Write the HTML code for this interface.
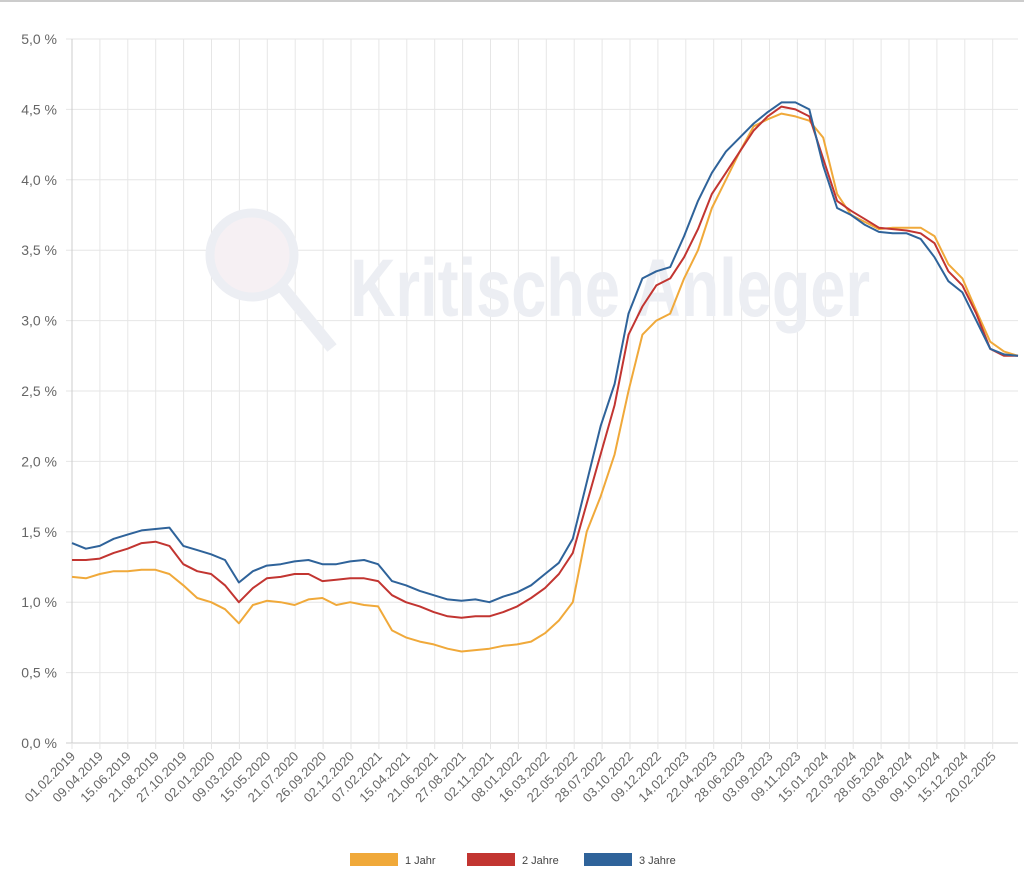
<!DOCTYPE html>
<html><head><meta charset="utf-8"><style>
body{margin:0;background:#fff;font-family:"Liberation Sans",sans-serif;}
</style></head><body>
<svg width="1024" height="887" xmlns="http://www.w3.org/2000/svg">
<rect x="0" y="0" width="1024" height="2" fill="#ccc"/>
<g id="grid"></g>
<text x="350" y="316" font-size="82" font-weight="bold" fill="#eceef3" textLength="520" lengthAdjust="spacingAndGlyphs">Kritische Anleger</text>
<circle cx="252" cy="255" r="42" fill="#f6f0f3" stroke="#eceef3" stroke-width="9"/>
<line x1="283" y1="288" x2="332" y2="348" stroke="#eceef3" stroke-width="12"/>
<g id="series"></g>
<g id="xlabels"></g>
<g id="legend"></g>
</svg>
<script>
const yTicks=[0,0.5,1,1.5,2,2.5,3,3.5,4,4.5,5];
const xLabels=["01.02.2019","09.04.2019","15.06.2019","21.08.2019","27.10.2019","02.01.2020","09.03.2020","15.05.2020","21.07.2020","26.09.2020","02.12.2020","07.02.2021","15.04.2021","21.06.2021","27.08.2021","02.11.2021","08.01.2022","16.03.2022","22.05.2022","28.07.2022","03.10.2022","09.12.2022","14.02.2023","22.04.2023","28.06.2023","03.09.2023","09.11.2023","15.01.2024","22.03.2024","28.05.2024","03.08.2024","09.10.2024","15.12.2024","20.02.2025"];
const seriesNames=["1 Jahr","2 Jahre","3 Jahre"];
const jahr1=[1.18,1.17,1.20,1.22,1.22,1.23,1.23,1.20,1.12,1.03,1.00,0.95,0.85,0.98,1.01,1.00,0.98,1.02,1.03,0.98,1.00,0.98,0.97,0.80,0.75,0.72,0.70,0.67,0.65,0.66,0.67,0.69,0.70,0.72,0.78,0.87,1.00,1.50,1.75,2.05,2.50,2.90,3.00,3.05,3.30,3.50,3.80,4.00,4.20,4.38,4.43,4.47,4.45,4.42,4.30,3.90,3.75,3.70,3.65,3.66,3.66,3.66,3.60,3.40,3.30,3.07,2.85,2.78,2.75];
const jahre2=[1.30,1.30,1.31,1.35,1.38,1.42,1.43,1.40,1.27,1.22,1.20,1.12,1.00,1.10,1.17,1.18,1.20,1.20,1.15,1.16,1.17,1.17,1.15,1.05,1.00,0.97,0.93,0.90,0.89,0.90,0.90,0.93,0.97,1.03,1.10,1.20,1.35,1.70,2.05,2.40,2.90,3.10,3.25,3.30,3.45,3.65,3.90,4.05,4.20,4.35,4.45,4.52,4.50,4.45,4.15,3.85,3.78,3.72,3.66,3.65,3.64,3.62,3.55,3.35,3.25,3.05,2.80,2.75,2.75];
const jahre3=[1.42,1.38,1.40,1.45,1.48,1.51,1.52,1.53,1.40,1.37,1.34,1.30,1.14,1.22,1.26,1.27,1.29,1.30,1.27,1.27,1.29,1.30,1.27,1.15,1.12,1.08,1.05,1.02,1.01,1.02,1.00,1.04,1.07,1.12,1.20,1.28,1.45,1.85,2.25,2.55,3.05,3.30,3.35,3.38,3.60,3.85,4.05,4.20,4.30,4.40,4.48,4.55,4.55,4.50,4.10,3.80,3.75,3.68,3.63,3.62,3.62,3.58,3.45,3.28,3.20,3.00,2.80,2.76,2.75];
const colors=["#f0a93a","#c23531","#2f639a"];
const NS="http://www.w3.org/2000/svg";
const X0=72,X1=1018,Y0=743,Y5=39;
const tickStep=27.9;
function yS(v){return Y0-(v/5)*(Y0-Y5);}
function xS(i,n){return X0+i*(X1-X0)/(n-1);}
function mk(t,a,p){const e=document.createElementNS(NS,t);for(const k in a)e.setAttribute(k,a[k]);p.appendChild(e);return e;}
const grid=document.getElementById('grid');
yTicks.forEach(v=>{
 const l=mk('line',{x1:X0-6,x2:X1,y1:yS(v),y2:yS(v),stroke:v===0?'#ccc':'#e6e6e6','stroke-width':1},grid);
 
 
 const t=mk('text',{x:57,y:yS(v)+5,'text-anchor':'end','font-size':14,fill:'#666'},grid);
 t.textContent=v.toFixed(1).replace('.',',')+' %';
 
 
});
const xl=document.getElementById('xlabels');
xLabels.forEach((s,i)=>{
 const x=X0+i*tickStep;
 const l=mk('line',{x1:x,x2:x,y1:Y5,y2:Y0+6,stroke:'#e6e6e6','stroke-width':1},grid);
 
 
 const t=mk('text',{x:x+4,y:Y0+14,'text-anchor':'end','font-size':13,fill:'#666',transform:`rotate(-45 ${x+4} ${Y0+14})`},xl);
 t.textContent=s;
 
 
});
const ax=mk('line',{x1:X0,x2:X0,y1:Y5,y2:Y0,stroke:'#ccc'},grid);


const sg=document.getElementById('series');
[jahr1,jahre2,jahre3].forEach((d,k)=>{
 const pts=d.map((v,i)=>xS(i,d.length).toFixed(1)+','+yS(v).toFixed(1)).join(' ');
 const p=mk('polyline',{points:pts,fill:'none',stroke:colors[k],'stroke-width':2,'stroke-linejoin':'round'},sg);
 
 
});
const lg=document.getElementById('legend');
const lx=[350,467,584];
seriesNames.forEach((n,k)=>{
 const r=mk('rect',{x:lx[k],y:853,width:48,height:13,fill:colors[k]},lg);
 
 
 const t=mk('text',{x:lx[k]+55,y:864,'font-size':11,fill:'#444'},lg);
 t.textContent=n;
 
 
});
</script>
</body></html>
